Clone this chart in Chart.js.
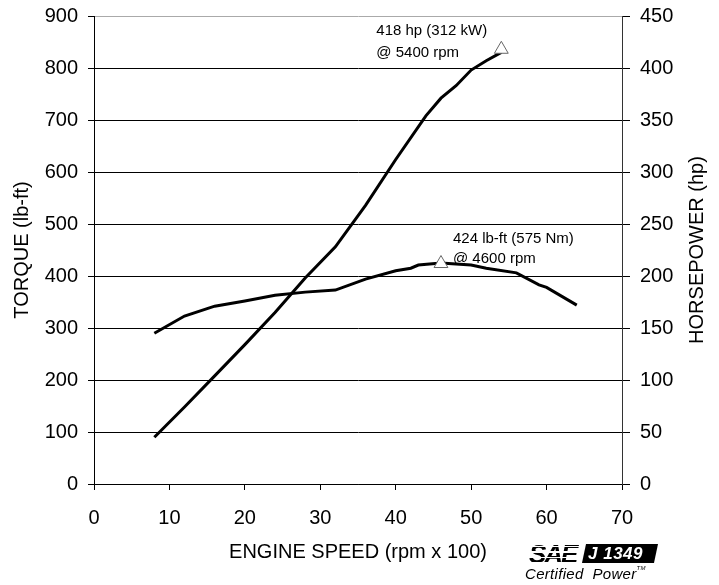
<!DOCTYPE html>
<html><head><meta charset="utf-8">
<script src="https://cdn.jsdelivr.net/npm/chart.js@4/dist/chart.umd.min.js"></script>
<style>
html,body{margin:0;padding:0;background:#fff;}
#wrap{position:relative;width:719px;height:585px;font-family:"Liberation Sans",Arial,sans-serif;}
canvas{position:absolute;left:0;top:0;}
#logo{position:absolute;left:524px;top:542px;width:140px;height:42px;}
#sae{position:absolute;left:5px;top:0px;font:italic 900 26px "Liberation Sans",Arial,sans-serif;letter-spacing:-2px;color:#000;line-height:24px;}
#stripes{position:absolute;left:4px;top:0;width:56px;height:22px;background:repeating-linear-gradient(to bottom,transparent 0px,transparent 4px,#fff 4px,#fff 5.5px);}
#j{position:absolute;left:60px;top:2px;width:72px;height:19px;background:#000;transform:skewX(-12deg);}
#jt{position:absolute;left:64px;top:2px;font:italic bold 17px "Liberation Sans",Arial,sans-serif;color:#fff;line-height:19px;letter-spacing:0.5px;}
#cp{position:absolute;left:1px;top:23px;font:italic 15px "Liberation Sans",Arial,sans-serif;color:#000;letter-spacing:0.3px;white-space:nowrap;}
#cp sup{font-size:6px;vertical-align:top;}
</style></head>
<body><div id="wrap"><canvas id="c" width="719" height="585"></canvas>
<div id="logo"><div id="sae">SAE</div><div id="stripes"></div><div id="j"></div><div id="jt">J 1349</div><div id="cp">Certified&nbsp; Power<sup>TM</sup></div></div>
</div>
<script>
const rpm = [8, 12, 16, 20, 24, 28, 32, 36, 40, 44, 46, 48, 50, 52, 54];
const horsepower = [45, 74, 104, 134, 165, 198, 228, 268, 312, 354, 371, 383, 398, 407, 415];
const torqueRpm = [8, 12, 16, 20, 24, 28, 32, 36, 40, 42, 43, 46, 48, 50, 52, 56, 59, 60, 64];
const torque = [290, 323, 342, 352, 363, 369, 373, 394, 410, 415, 421, 425, 423, 421, 415, 406, 383, 378, 344];
const peakHp = {rpm: 54, hp: 418};
const peakTq = {rpm: 46, tq: 424};
const xTicks = [0, 10, 20, 30, 40, 50, 60, 70];
const torqueTicks = [0, 100, 200, 300, 400, 500, 600, 700, 800, 900];
const hpTicks = [0, 50, 100, 150, 200, 250, 300, 350, 400, 450];
const labels = {
  x: "ENGINE SPEED (rpm x 100)",
  y: "TORQUE (lb-ft)",
  y1: "HORSEPOWER (hp)",
  hpNote: ["418 hp (312 kW)", "@ 5400 rpm"],
  tqNote: ["424 lb-ft (575 Nm)", "@ 4600 rpm"]
};

const FONT = '"Liberation Sans", Arial, sans-serif';

const textPlugin = {
  id: 'texts',
  afterDraw(chart) {
    const ctx = chart.ctx, a = chart.chartArea;
    const xs = chart.scales.x, ys = chart.scales.y, y1 = chart.scales.y1;
    ctx.save();
    ctx.fillStyle = '#000';
    ctx.font = '20px ' + FONT;
    ctx.textAlign = 'center';
    ctx.textBaseline = 'middle';
    ctx.fillText(labels.x, (a.left + a.right) / 2, 552);
    ctx.font = '20px ' + FONT;
    ctx.save(); ctx.translate(22, (a.top + a.bottom) / 2); ctx.rotate(-Math.PI / 2);
    ctx.fillText(labels.y, 0, 0); ctx.restore();
    ctx.save(); ctx.translate(697, (a.top + a.bottom) / 2); ctx.rotate(-Math.PI / 2);
    ctx.fillText(labels.y1, 0, 0); ctx.restore();
    ctx.font = '15px ' + FONT;
    ctx.textAlign = 'left';
    const hx = xs.getPixelForValue(peakHp.rpm), hy = y1.getPixelForValue(peakHp.hp);
    ctx.fillText(labels.hpNote[0], hx - 125, hy - 18);
    ctx.fillText(labels.hpNote[1], hx - 125, hy + 4);
    const tx = xs.getPixelForValue(peakTq.rpm), ty = ys.getPixelForValue(peakTq.tq);
    ctx.fillText(labels.tqNote[0], tx + 12, ty - 25);
    ctx.fillText(labels.tqNote[1], tx + 12, ty - 5);
    ctx.restore();
  }
};

const noPadV = s => { s.paddingTop = 0; s.paddingBottom = 0; };

new Chart(document.getElementById('c'), {
  type: 'scatter',
  data: {
    datasets: [
      {data: [{x: peakHp.rpm, y: peakHp.hp}], yAxisID: 'y1', pointStyle: 'triangle', pointRadius: 8, backgroundColor: '#fff', borderColor: '#666', borderWidth: 1, showLine: false, order: 0},
      {data: [{x: peakTq.rpm, y: peakTq.tq}], yAxisID: 'y', pointStyle: 'triangle', pointRadius: 8, backgroundColor: '#fff', borderColor: '#666', borderWidth: 1, showLine: false, order: 0},
      {data: rpm.map((r, i) => ({x: r, y: horsepower[i]})), yAxisID: 'y1', showLine: true, borderColor: '#000', borderWidth: 3, pointRadius: 0, tension: 0, order: 1},
      {data: torqueRpm.map((r, i) => ({x: r, y: torque[i]})), yAxisID: 'y', showLine: true, borderColor: '#000', borderWidth: 3, pointRadius: 0, tension: 0, order: 1}
    ]
  },
  options: {
    responsive: false,
    animation: false,
    events: [],
    layout: {padding: {top: 16, left: 0, right: 0, bottom: 0}},
    plugins: {legend: {display: false}, tooltip: {enabled: false}},
    scales: {
      x: {
        type: 'linear', min: 0, max: 70,
        afterBuildTicks: s => { s.ticks = xTicks.map(v => ({value: v})); },
        afterFit: s => { s.height = 101; s.paddingLeft = 0; s.paddingRight = 0; },
        ticks: {color: '#000', font: {size: 20, family: FONT}, padding: 16, maxRotation: 0},
        grid: {drawOnChartArea: false, color: '#000', tickLength: 6, tickColor: '#000'},
        border: {color: '#000', width: 1}
      },
      y: {
        position: 'left', min: 0, max: 900,
        afterBuildTicks: s => { s.ticks = torqueTicks.map(v => ({value: v})); },
        afterFit: s => { s.width = 94; noPadV(s); },
        ticks: {color: '#000', font: {size: 20, family: FONT}, padding: 10},
        grid: {color: c => c.tick && c.tick.value === 900 ? '#aaa' : '#000', tickColor: '#000', tickLength: 6, lineWidth: 1},
        border: {color: '#000', width: 1}
      },
      y1: {
        position: 'right', min: 0, max: 450,
        afterBuildTicks: s => { s.ticks = hpTicks.map(v => ({value: v})); },
        afterFit: s => { s.width = 97; noPadV(s); },
        ticks: {color: '#000', font: {size: 20, family: FONT}, padding: 10},
        grid: {drawOnChartArea: false, tickColor: '#000', tickLength: 8},
        border: {color: '#333', width: 1}
      }
    }
  },
  plugins: [textPlugin]
});
</script>
</body></html>
